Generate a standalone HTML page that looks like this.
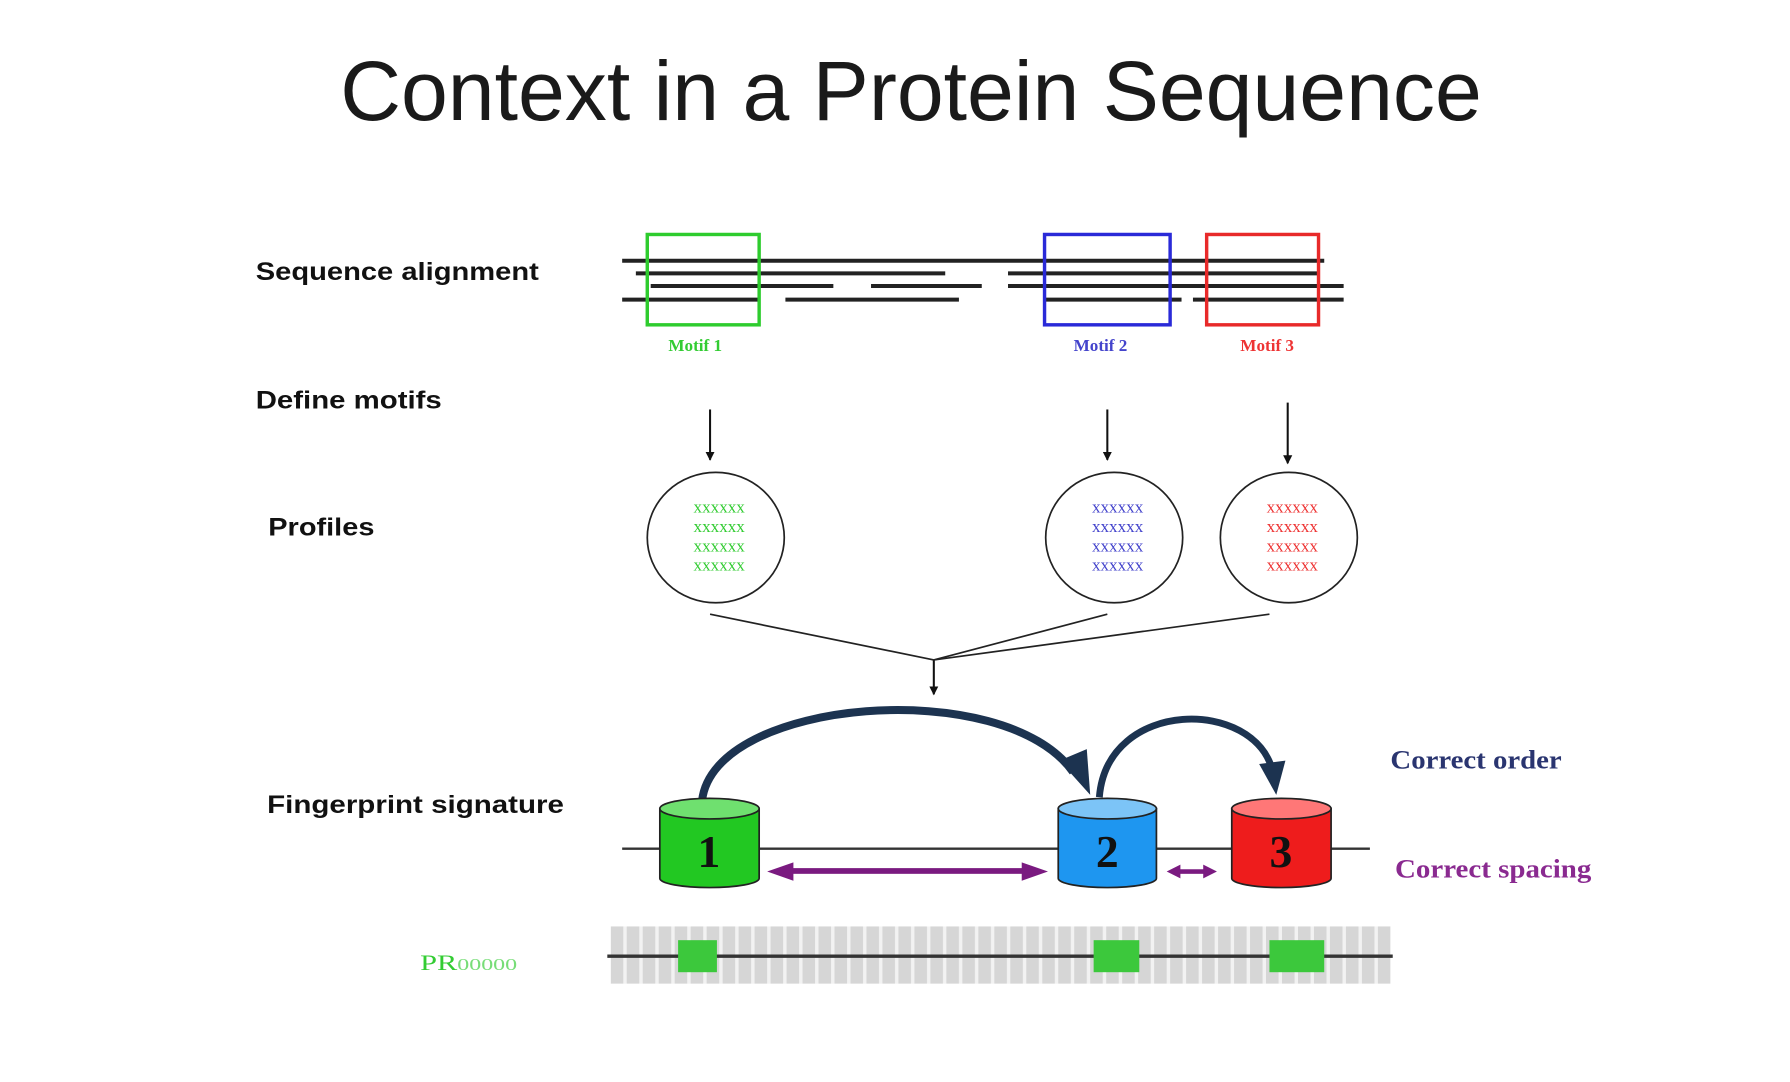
<!DOCTYPE html>
<html><head><meta charset="utf-8"><style>html,body{margin:0;padding:0;background:#fff}svg{display:block}</style></head><body>
<svg width="1790" height="1082" viewBox="0 0 1568 946" preserveAspectRatio="none" xmlns="http://www.w3.org/2000/svg">
<defs>
<pattern id="st" x="535" y="0" width="14" height="10" patternUnits="userSpaceOnUse"><rect width="14" height="10" fill="#d6d6d6"/><rect x="11" width="3" height="10" fill="#f2f2f2"/></pattern>
<marker id="ah" markerWidth="8" markerHeight="8" refX="7" refY="4" orient="auto" markerUnits="userSpaceOnUse"><path d="M0,0 L8,4 L0,8 Z" fill="#111"/></marker>
</defs>
<rect width="1568" height="946" fill="#fff"/>
<text x="798" y="105" text-anchor="middle" font-family="Liberation Sans, sans-serif" font-size="74" fill="#1a1a1a" textLength="1000" lengthAdjust="spacingAndGlyphs">Context in a Protein Sequence</text>
<g font-family="Liberation Sans, sans-serif" font-weight="bold" font-size="22" fill="#111" lengthAdjust="spacingAndGlyphs">
<text x="224" y="245" textLength="248" lengthAdjust="spacingAndGlyphs">Sequence alignment</text>
<text x="224" y="357" textLength="163" lengthAdjust="spacingAndGlyphs">Define motifs</text>
<text x="235" y="468" textLength="93" lengthAdjust="spacingAndGlyphs">Profiles</text>
<text x="234" y="711" textLength="260" lengthAdjust="spacingAndGlyphs">Fingerprint signature</text>
</g>
<g stroke="#222" stroke-width="3.5">
<line x1="545" y1="228" x2="1160" y2="228"/>
<line x1="557" y1="239" x2="828" y2="239"/><line x1="883" y1="239" x2="1155" y2="239"/>
<line x1="570" y1="250" x2="730" y2="250"/><line x1="763" y1="250" x2="860" y2="250"/><line x1="883" y1="250" x2="1177" y2="250"/>
<line x1="545" y1="262" x2="665" y2="262"/><line x1="688" y1="262" x2="840" y2="262"/><line x1="915" y1="262" x2="1035" y2="262"/><line x1="1045" y1="262" x2="1177" y2="262"/>
</g>
<rect x="567" y="205" width="98" height="79" fill="none" stroke="#2ecc2e" stroke-width="3"/>
<rect x="915" y="205" width="110" height="79" fill="none" stroke="#2a2ad8" stroke-width="3"/>
<rect x="1057" y="205" width="98" height="79" fill="none" stroke="#e82a2a" stroke-width="3"/>
<g font-family="Liberation Serif, serif" font-weight="bold" font-size="15" text-anchor="middle">
<text x="609" y="307" fill="#3c3">Motif 1</text>
<text x="964" y="307" fill="#44c">Motif 2</text>
<text x="1110" y="307" fill="#e33">Motif 3</text>
</g>
<g stroke="#111" stroke-width="1.8" marker-end="url(#ah)">
<line x1="622" y1="358" x2="622" y2="402"/>
<line x1="970" y1="358" x2="970" y2="402"/>
<line x1="1128" y1="352" x2="1128" y2="405"/>
<line x1="818" y1="577" x2="818" y2="607"/>
</g>
<g fill="none" stroke="#222" stroke-width="1.5">
<ellipse cx="627" cy="470" rx="60" ry="57"/>
<ellipse cx="976" cy="470" rx="60" ry="57"/>
<ellipse cx="1129" cy="470" rx="60" ry="57"/>
<line x1="622" y1="537" x2="818" y2="577"/>
<line x1="970" y1="537" x2="818" y2="577"/>
<line x1="1112" y1="537" x2="818" y2="577"/>
</g>
<g font-family="Liberation Serif, serif" font-size="15" text-anchor="middle">
<g fill="#3c3"><text x="630" y="448">xxxxxx</text><text x="630" y="465">xxxxxx</text><text x="630" y="482">xxxxxx</text><text x="630" y="499">xxxxxx</text></g>
<g fill="#44c"><text x="979" y="448">xxxxxx</text><text x="979" y="465">xxxxxx</text><text x="979" y="482">xxxxxx</text><text x="979" y="499">xxxxxx</text></g>
<g fill="#e33"><text x="1132" y="448">xxxxxx</text><text x="1132" y="465">xxxxxx</text><text x="1132" y="482">xxxxxx</text><text x="1132" y="499">xxxxxx</text></g>
</g>
<line x1="545" y1="742" x2="1200" y2="742" stroke="#333" stroke-width="2"/>
<path d="M615,700 C625,610 880,590 940,675" fill="none" stroke="#1c3350" stroke-width="7"/>
<path d="M928,665 L955,695 L952,655 Z" fill="#1c3350"/>
<path d="M963,697 C970,610 1100,610 1115,675" fill="none" stroke="#1c3350" stroke-width="6"/>
<path d="M1103,668 L1118,695 L1126,665 Z" fill="#1c3350"/>
<g stroke="#222" stroke-width="1.5">
<path d="M578,707 L578,768 A43.5,8 0 0 0 665,768 L665,707 Z" fill="#22c822"/>
<ellipse cx="621.5" cy="707" rx="43.5" ry="9" fill="#6fe06f"/>
<path d="M927,707 L927,768 A43,8 0 0 0 1013,768 L1013,707 Z" fill="#1e96f0"/>
<ellipse cx="970" cy="707" rx="43" ry="9" fill="#7cc4f7"/>
<path d="M1079,707 L1079,768 A43.5,8 0 0 0 1166,768 L1166,707 Z" fill="#ee1c1c"/>
<ellipse cx="1122.5" cy="707" rx="43.5" ry="9" fill="#f77"/>
</g>
<g font-family="Liberation Serif, serif" font-weight="bold" font-size="40" fill="#111" text-anchor="middle">
<text x="621" y="758">1</text><text x="970" y="758">2</text><text x="1122" y="758">3</text>
</g>
<g fill="#7a1a80">
<rect x="690" y="759" width="210" height="5"/><path d="M672,762 L695,754 L695,770 Z"/><path d="M918,762 L895,754 L895,770 Z"/>
<rect x="1030" y="760" width="28" height="4"/><path d="M1022,762 L1034,756 L1034,768 Z"/><path d="M1066,762 L1054,756 L1054,768 Z"/>
</g>
<g font-family="Liberation Serif, serif" font-weight="bold" font-size="23">
<text x="1218" y="672" fill="#2a3570" textLength="150" lengthAdjust="spacingAndGlyphs">Correct order</text>
<text x="1222" y="767" fill="#8a2a90" textLength="172" lengthAdjust="spacingAndGlyphs">Correct spacing</text>
</g>
<rect x="535" y="810" width="683" height="50" fill="url(#st)"/>
<line x1="532" y1="836" x2="1220" y2="836" stroke="#333" stroke-width="3"/>
<g fill="#3cc83c"><rect x="594" y="822" width="34" height="28"/><rect x="958" y="822" width="40" height="28"/><rect x="1112" y="822" width="48" height="28"/></g>
<text x="368" y="848" font-family="Liberation Serif, serif" font-size="19" fill="#3c3" textLength="85" lengthAdjust="spacingAndGlyphs">PR<tspan font-size="15" fill="#7d7">00000</tspan></text>
</svg>
</body></html>
